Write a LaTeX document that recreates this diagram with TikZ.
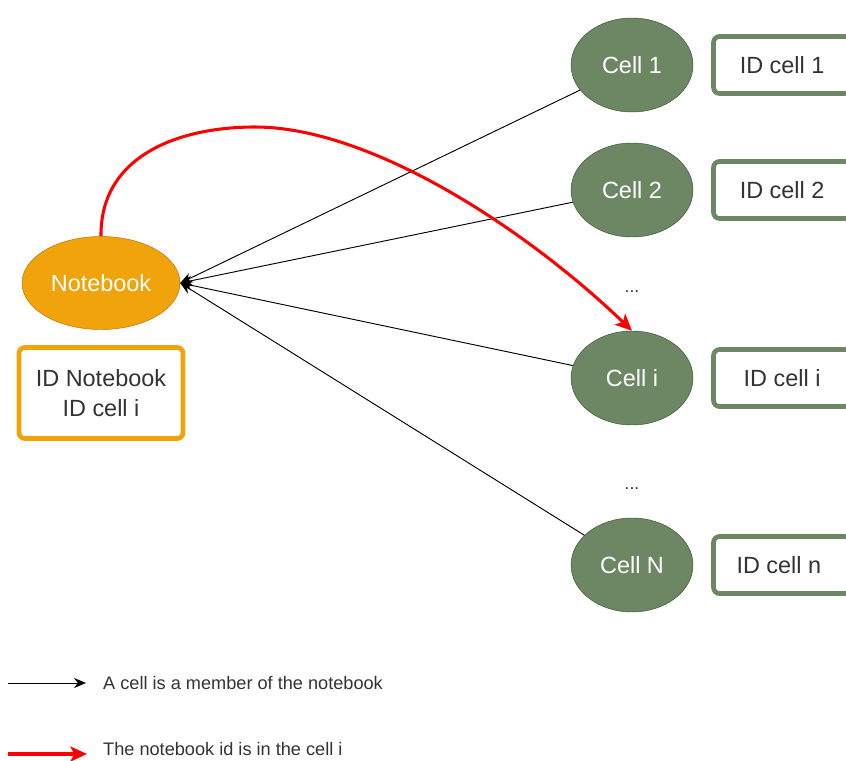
\documentclass[tikz,border=0pt]{standalone}
\usepackage{fontspec}
\setmainfont{Liberation Sans}
\usetikzlibrary{arrows.meta,positioning,shapes.geometric}
\definecolor{nborange}{HTML}{F0A30A}
\definecolor{nbedge}{HTML}{BD7000}
\definecolor{cellgreen}{HTML}{6D8764}
\definecolor{celledge}{HTML}{3A5431}
\definecolor{txtgrey}{HTML}{333333}
\begin{document}
\begin{tikzpicture}[x=0.03cm,y=-0.03cm,
    bigfont/.style={font=\fontsize{20}{25}\selectfont},
    nbnode/.style={ellipse, draw=nbedge, fill=nborange, text=white, bigfont,
        minimum width=4.74cm, minimum height=2.79cm, inner sep=0pt},
    cellnode/.style={ellipse, draw=celledge, fill=cellgreen, text=white, bigfont,
        minimum width=3.66cm, minimum height=2.82cm, inner sep=0pt},
    idbox/.style={rectangle, rounded corners=5pt, line width=4pt, fill=white,
        text=txtgrey, align=center, bigfont, inner sep=0pt},
    member/.style={draw=black, line width=0.8pt, -{Stealth[length=0.36cm,width=0.3cm]}},
    idlink/.style={draw=red, line width=2.6pt, -{Stealth[length=0.5cm,width=0.45cm,inset=0.12cm]}},
    legend/.style={font=\fontsize{15.5}{19}\selectfont, text=txtgrey, anchor=west, inner sep=0pt},
    dots/.style={font=\fontsize{15}{18}\selectfont, text=txtgrey}]
    \clip (0,0) rectangle (846,760);

    % Notebook
    \node[nbnode] (nb) at (101,283) {Notebook};
    \node[idbox, draw=nborange, minimum width=4.92cm, minimum height=2.73cm]
        (idnb) at (101,393) {ID Notebook\\ID cell i};

    % Cells
    \foreach \n/\y/\idl in {
        1/65/ID cell 1,
        2/190/ID cell 2,
        i/378/ID cell i,
        N/565/ID cell n
        } {
        \node[cellnode] (c\n) at (632,\y) {Cell \n};
        \node[idbox, draw=cellgreen, minimum width=4.11cm, minimum height=1.71cm,
            right=0.54cm of c\n] (id\n) {\idl};
        \draw[member] (c\n) -- (nb.east);
    }
    \node[dots] (dotsa) at (632,292) {...};
    \node[dots] (dotsb) at (632,489) {...};

    % notebook id stored in cell i
    \coordinate (bend) at (255,127);
    \draw[idlink] (nb.north) .. controls (100,158) and (175,127) .. (bend)
        .. controls (370,127) and (525,228) .. (ci.north);

    % Legend
    \coordinate (ka) at (8,683);
    \coordinate (kb) at (86,683);
    \draw[member] (ka) -- (kb);
    \node[legend] (kone) at (103,683) {A cell is a member of the notebook};
    \coordinate (kc) at (8,754);
    \coordinate (kd) at (87,754);
    \draw[idlink] (kc) -- (kd);
    \node[legend] (ktwo) at (103,749) {The notebook id is in the cell i};
\end{tikzpicture}
\end{document}
